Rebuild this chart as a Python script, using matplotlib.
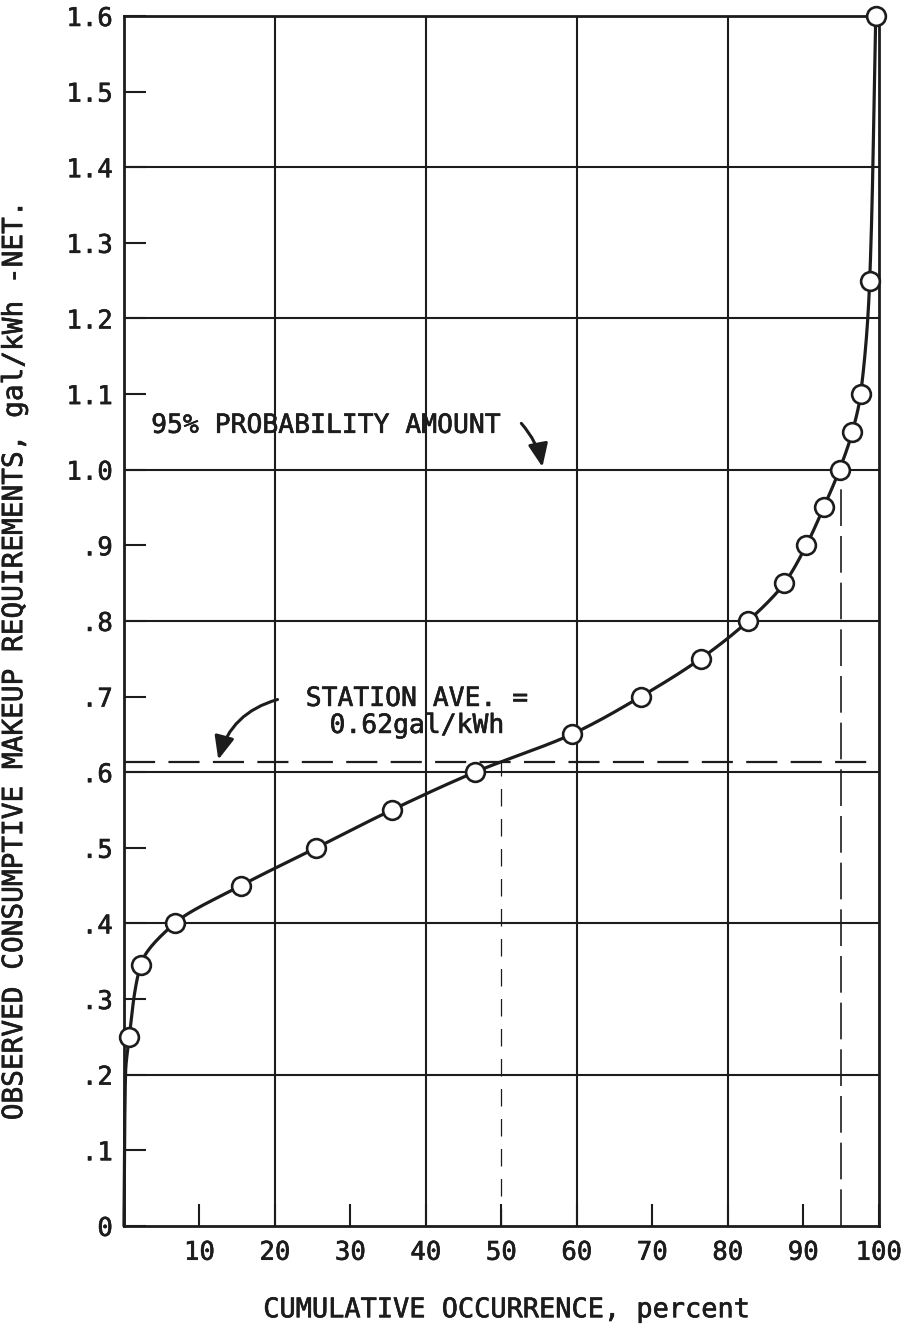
import numpy as np
import matplotlib.pyplot as plt
import matplotlib.patheffects as pe
from matplotlib.patches import FancyArrowPatch
from matplotlib.ticker import FixedLocator, FuncFormatter

plt.rcParams['font.family'] = ['DejaVu Sans Mono']

# observed points
pct = [0.7, 2.2, 6.7, 15.5, 25.5, 35.5, 46.5, 59.3, 68.5, 76.4, 82.7,
       87.5, 90.4, 92.7, 94.8, 96.5, 97.6, 98.8, 99.6]
gal = [0.25, 0.345, 0.40, 0.45, 0.50, 0.55, 0.60, 0.65, 0.70, 0.75, 0.80,
       0.85, 0.90, 0.95, 1.00, 1.05, 1.10, 1.25, 1.60]
# lower end of the faired curve (runs down the axis to zero)
tail_pct = [0.0, 0.2]
tail_gal = [0.0, 0.2]

station_ave = 0.613      # where the dashed line is drawn
median_pct = 50
p95_pct = 95
p95_gal = 1.0

x_ticks = list(range(0, 101, 10))
y_ticks = [round(0.1 * i, 1) for i in range(17)]
x_grid = [20, 40, 60, 80]
y_grid = [0.2, 0.4, 0.6, 0.8, 1.0, 1.2, 1.4]

ink = '#1c1c1c'
heavy = [pe.withStroke(linewidth=0.45, foreground=ink)]


def pchip(xk, yk, xs):
    # monotone cubic (Fritsch-Carlson)
    xk = np.asarray(xk, float)
    yk = np.asarray(yk, float)
    h = np.diff(xk)
    d = np.diff(yk) / h
    m = np.zeros_like(xk)
    for i in range(1, len(xk) - 1):
        if d[i - 1] * d[i] > 0:
            w1 = 2 * h[i] + h[i - 1]
            w2 = h[i] + 2 * h[i - 1]
            m[i] = (w1 + w2) / (w1 / d[i - 1] + w2 / d[i])
    m[0] = d[0]
    m[-1] = d[-1]
    idx = np.clip(np.searchsorted(xk, xs) - 1, 0, len(h) - 1)
    t = (xs - xk[idx]) / h[idx]
    h00 = 2 * t**3 - 3 * t**2 + 1
    h10 = t**3 - 2 * t**2 + t
    h01 = -2 * t**3 + 3 * t**2
    h11 = t**3 - t**2
    return (h00 * yk[idx] + h10 * h[idx] * m[idx] + h01 * yk[idx + 1]
            + h11 * h[idx] * m[idx + 1])


fig = plt.figure(figsize=(9.05, 13.31), dpi=100)
ax = fig.add_axes([0.137, 0.079, 0.834, 0.909])

# faired curve: percent as a function of gal/kWh
cy = tail_gal + gal
cx = tail_pct + pct
ys = np.linspace(0, 1.6, 800)
xs = pchip(cy, cx, ys)
ax.plot(xs, ys, color=ink, lw=2.3, zorder=4, solid_capstyle='round', clip_on=False)

ax.plot(pct, gal, 'o', ms=13.5, mfc='white', mec=ink, mew=1.9, zorder=5, clip_on=False)

for gx in x_grid:
    ax.axvline(gx, color=ink, lw=1.5, zorder=1)
for gy in y_grid:
    ax.axhline(gy, color=ink, lw=1.5, zorder=1)

# station average and 95% lines
ax.plot([0, 99.3], [station_ave, station_ave], color=ink, lw=1.6,
        dashes=(14, 6), zorder=2)
ax.plot([median_pct, median_pct], [0, station_ave], color=ink, lw=0.9,
        dashes=(14, 10), zorder=2)
ax.plot([p95_pct, p95_pct], [0, p95_gal - 0.02], color=ink, lw=1.2,
        dashes=(22, 6), zorder=2)

ax.set_xlim(0, 100)
ax.set_ylim(0, 1.6)

ax.xaxis.set_major_locator(FixedLocator(x_ticks))
ax.yaxis.set_major_locator(FixedLocator(y_ticks))
ax.xaxis.set_major_formatter(FuncFormatter(lambda v, p: '' if v == 0 else '%d' % v))


def yfmt(v, p):
    if abs(v) < 1e-9:
        return '0'
    if v < 0.95:
        return ('%.1f' % v)[1:]
    return '%.1f' % v


ax.yaxis.set_major_formatter(FuncFormatter(yfmt))
ax.tick_params(direction='in', length=16, width=1.5, color=ink,
               labelsize=18.5, labelcolor=ink)
ax.tick_params(axis='x', pad=10)
ax.tick_params(axis='y', pad=8)
for lab in ax.get_xticklabels() + ax.get_yticklabels():
    lab.set_path_effects(heavy)
for s in ax.spines.values():
    s.set_linewidth(2.0)
    s.set_color(ink)

ax.set_xlabel('CUMULATIVE OCCURRENCE, percent', fontsize=19.4, color=ink,
              path_effects=heavy)
ax.xaxis.set_label_coords(0.505, -0.059)
ax.set_ylabel('OBSERVED CONSUMPTIVE MAKEUP REQUIREMENTS, gal/kWh -NET.',
              fontsize=20, color=ink, path_effects=heavy)
ax.yaxis.set_label_coords(-0.127, 0.468)

ax.text(3.6, 1.058, '95% PROBABILITY AMOUNT', fontsize=19, color=ink,
        ha='left', va='center', zorder=6, path_effects=heavy)
ax.add_patch(FancyArrowPatch((52.4, 1.064), (55.5, 1.0),
                             connectionstyle='arc3,rad=-0.15',
                             arrowstyle='-|>,head_length=0.7,head_width=0.3',
                             mutation_scale=20, lw=2.2, color=ink, zorder=6))

ax.text(38.8, 0.679, 'STATION AVE. =\n0.62gal/kWh', fontsize=19, color=ink,
        ha='center', va='center', linespacing=1.05, zorder=6, path_effects=heavy)
ax.add_patch(FancyArrowPatch((20.7, 0.697), (12.4, 0.613),
                             connectionstyle='arc3,rad=0.3',
                             arrowstyle='-|>,head_length=0.7,head_width=0.3',
                             mutation_scale=20, lw=2.2, color=ink, zorder=6))

fig.savefig('out.png', dpi=100, facecolor='white')
